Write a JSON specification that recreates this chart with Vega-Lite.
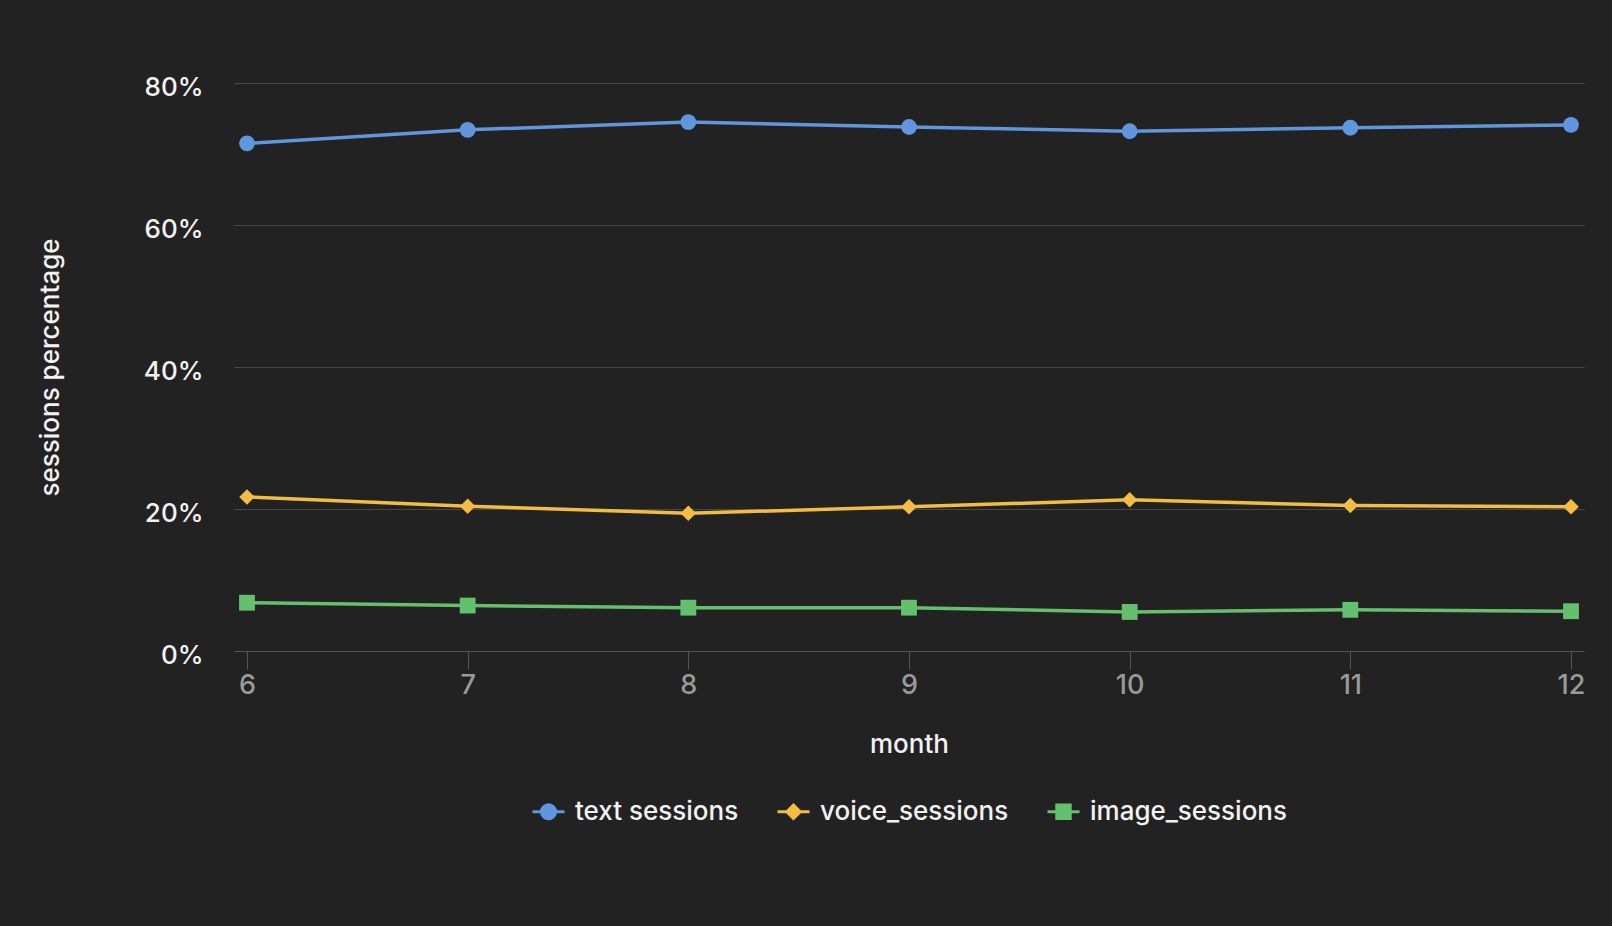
{
  "$schema": "https://vega.github.io/schema/vega-lite/v6.json",
  "width": 1350,
  "height": 568,
  "autosize": {"type": "none"},
  "padding": {"left": 234, "top": 83, "right": 28, "bottom": 275},
  "background": "#222222",
  "config": {
    "font": "Inter",
    "view": {"stroke": null},
    "axis": {"gridColor": "#474747", "domainColor": "#555555", "tickColor": "#555555"}
  },
  "data": {
    "values": [
      {"month": 6, "series": "text sessions", "value": 0.715},
      {"month": 7, "series": "text sessions", "value": 0.734},
      {"month": 8, "series": "text sessions", "value": 0.745},
      {"month": 9, "series": "text sessions", "value": 0.738},
      {"month": 10, "series": "text sessions", "value": 0.732},
      {"month": 11, "series": "text sessions", "value": 0.737},
      {"month": 12, "series": "text sessions", "value": 0.741},
      {"month": 6, "series": "voice_sessions", "value": 0.217},
      {"month": 7, "series": "voice_sessions", "value": 0.204},
      {"month": 8, "series": "voice_sessions", "value": 0.194},
      {"month": 9, "series": "voice_sessions", "value": 0.203},
      {"month": 10, "series": "voice_sessions", "value": 0.213},
      {"month": 11, "series": "voice_sessions", "value": 0.205},
      {"month": 12, "series": "voice_sessions", "value": 0.203},
      {"month": 6, "series": "image_sessions", "value": 0.068},
      {"month": 7, "series": "image_sessions", "value": 0.064},
      {"month": 8, "series": "image_sessions", "value": 0.061},
      {"month": 9, "series": "image_sessions", "value": 0.061},
      {"month": 10, "series": "image_sessions", "value": 0.055},
      {"month": 11, "series": "image_sessions", "value": 0.058},
      {"month": 12, "series": "image_sessions", "value": 0.056}
    ]
  },
  "encoding": {
    "x": {
      "field": "month", "type": "quantitative",
      "scale": {"domain": [6, 12], "nice": false, "zero": false, "padding": 13},
      "axis": {
        "values": [6, 7, 8, 9, 10, 11, 12], "title": "month", "grid": false,
        "tickSize": 18, "labelPadding": 3, "labelFontSize": 27, "labelColor": "#9a9a9a", "labelFontWeight": 500,
        "titleFontSize": 26, "titleFontWeight": 500, "titleColor": "#f2f2f2", "titlePadding": 33
      }
    },
    "y": {
      "field": "value", "type": "quantitative",
      "scale": {"domain": [0, 0.8], "nice": false},
      "axis": {
        "values": [0, 0.2, 0.4, 0.6, 0.8], "format": ".0%", "title": "sessions percentage",
        "domain": false, "ticks": false, "labelPadding": 31, "labelOffset": 4, "labelFontSize": 26, "labelFontWeight": 500, "labelColor": "#f2f2f2",
        "titleFontSize": 26, "titleFontWeight": 500, "titleColor": "#f2f2f2", "titlePadding": 80
      }
    },
    "color": {
      "field": "series", "type": "nominal",
      "scale": {"domain": ["text sessions", "voice_sessions", "image_sessions"], "range": ["#5f96dd", "#f2bd42", "#65c06e"]},
      "legend": {
        "orient": "none", "legendX": 297, "legendY": 711, "direction": "horizontal", "title": null,
        "labelFontSize": 26, "labelColor": "#f2f2f2", "labelFontWeight": 500, "labelLimit": 400,
        "symbolSize": 1024, "symbolStrokeWidth": 3, "labelOffset": 9, "columnPadding": 32,
        "encode": {
          "symbols": {
            "update": {
              "shape": {"signal": "datum.value === 'text sessions' ? 'M-1,0L1,0M0.44,0A0.44,0.44,0,1,1,-0.44,0A0.44,0.44,0,1,1,0.44,0Z' : datum.value === 'voice_sessions' ? 'M-1,0L1,0M-0.42,0L0,-0.42L0.42,0L0,0.42Z' : 'M-1,0L1,0M-0.42,-0.42L0.42,-0.42L0.42,0.42L-0.42,0.42Z'"},
              "fill": {"scale": "color", "field": "value"},
              "stroke": {"scale": "color", "field": "value"},
              "strokeWidth": {"value": 3},
              "opacity": {"value": 1},
              "fillOpacity": {"value": 1}
            }
          }
        }
      }
    }
  },
  "layer": [
    {"mark": {"type": "line", "strokeWidth": 3.5}},
    {
      "transform": [{"filter": "datum.series === 'text sessions'"}],
      "mark": {"type": "point", "shape": "circle", "filled": true, "opacity": 1, "size": 250}
    },
    {
      "transform": [{"filter": "datum.series === 'voice_sessions'"}],
      "mark": {"type": "point", "shape": "diamond", "filled": true, "opacity": 1, "size": 240}
    },
    {
      "transform": [{"filter": "datum.series === 'image_sessions'"}],
      "mark": {"type": "point", "shape": "square", "filled": true, "opacity": 1, "size": 250}
    }
  ]
}
